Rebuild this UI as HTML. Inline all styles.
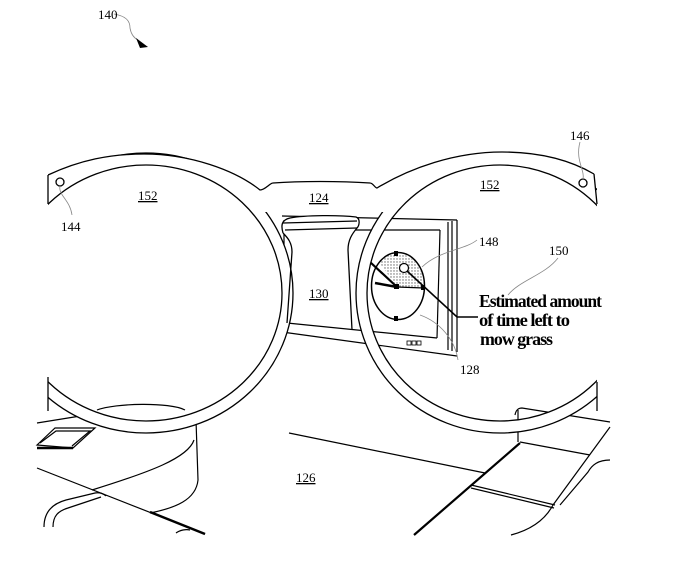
<!DOCTYPE html>
<html><head><meta charset="utf-8"><style>
html,body{margin:0;padding:0;background:#fff;}
svg{display:block;}
text{font-family:"Liberation Serif",serif;fill:#000;}
</style></head><body>
<svg width="682" height="564" viewBox="0 0 682 564" xmlns="http://www.w3.org/2000/svg">
<defs>
<pattern id="dots" width="3" height="3" patternUnits="userSpaceOnUse"><rect width="3" height="3" fill="#fff"/><circle cx="1" cy="1" r="0.7" fill="#666"/></pattern>
<clipPath id="fx"><rect x="48" y="0" width="549" height="564"/></clipPath>
<mask id="noLens" maskUnits="userSpaceOnUse" x="0" y="0" width="682" height="564">
<rect width="682" height="564" fill="#fff"/>
<ellipse cx="146" cy="293" rx="136" ry="128" fill="#000"/>
<ellipse cx="500" cy="293" rx="133" ry="128" fill="#000"/>
</mask>
</defs>
<g fill="none" stroke="#000" stroke-width="1.2">
<line x1="37" y1="423" x2="99" y2="413"/>
<path d="M97,410 C115,403 170,402 185,410"/>
<path d="M196,420 L198,480 C196,500 175,508 150,513"/>
<path d="M194,440 C188,458 150,472 92,490"/>
<path d="M37,445 L55,428 L95,428 L73,448 Z"/>
<path d="M40,443 L56,431 L90,431 L72,446"/>
<line x1="37" y1="448" x2="73" y2="448" stroke-width="2.5"/>
<line x1="37" y1="468" x2="205" y2="534"/>
<line x1="150" y1="512" x2="205" y2="534" stroke-width="2.5"/>
<path d="M44,527 C44,510 55,503 66,500 L95,493 C100,492 104,494 106,496"/>
<path d="M53,527 C53,516 58,511 68,508 L101,497"/>
<path d="M176,533 C180,530 186,529 190,530"/>
<line x1="289" y1="433" x2="485" y2="473"/>
<path d="M515,415 C516,410 518,408 522,408 L610,422"/>
<line x1="518" y1="410" x2="518" y2="442"/>
<line x1="520" y1="442" x2="590" y2="455"/>
<line x1="610" y1="427" x2="553" y2="505"/>
<path d="M553,505 C545,520 530,530 511,535"/>
<line x1="520" y1="443" x2="414" y2="535" stroke-width="2.2"/>
<line x1="471" y1="485" x2="555" y2="505"/>
<line x1="471" y1="488" x2="554" y2="508"/>
<path d="M610,460 C598,460 592,465 588,472 L560,505"/>
<line x1="282" y1="216" x2="457" y2="220"/>
<line x1="457" y1="220" x2="457" y2="352"/>
<line x1="448" y1="222" x2="448" y2="350"/>
<line x1="452" y1="221" x2="452" y2="351"/>
<line x1="284" y1="220" x2="284" y2="332"/>
<line x1="282" y1="332" x2="457" y2="356"/>
<line x1="287" y1="323" x2="437" y2="338"/>
<line x1="285" y1="230" x2="440" y2="230"/>
<line x1="440" y1="230" x2="437" y2="338"/>
<rect x="407" y="341" width="4" height="4" stroke-width="0.8"/>
<rect x="412" y="341" width="4" height="4" stroke-width="0.8"/>
<rect x="417" y="341" width="4" height="4" stroke-width="0.8"/>
</g>
<path d="M397,287 L424,288 A27,34 0 0 0 379,262 Z" fill="url(#dots)"/>
<ellipse cx="398" cy="286" rx="26.5" ry="33.5" fill="none" stroke="#000" stroke-width="1.5"/>
<line x1="397" y1="287" x2="424" y2="288" stroke="#000" stroke-width="1.2"/>
<line x1="370" y1="262" x2="397" y2="287" stroke="#000" stroke-width="2.2"/>
<line x1="375" y1="283" x2="397" y2="287" stroke="#000" stroke-width="2.5"/>
<rect x="394" y="284" width="5" height="5"/>
<rect x="394" y="251" width="4" height="5"/>
<rect x="394" y="316" width="4" height="5"/>
<rect x="421" y="285" width="4" height="5"/>
<circle cx="404" cy="268" r="4.5" fill="#fff" stroke="#000" stroke-width="1.2"/>
<polyline points="407,271 457,317 478,317" fill="none" stroke="#000" stroke-width="1.6"/>
<g clip-path="url(#fx)">
<g mask="url(#noLens)">
<ellipse cx="146" cy="293" rx="147" ry="140" fill="#fff" stroke="#000" stroke-width="1.3"/>
<ellipse cx="500" cy="293" rx="144" ry="140" fill="#fff" stroke="#000" stroke-width="1.3"/>
<path d="M48,175 C80,160 110,154 144,154 C190,154 235,170 260,190 L273,183 C300,181 340,181 370,183 L377,188 C410,168 455,152 502,152 C540,152 570,160 594,174 L597,212 L48,212 Z" fill="#fff"/>
</g>
<path d="M48,175 C80,160 110,154 144,154 C190,154 235,170 260,190 C265,190 270,183 273,183 C300,181 340,181 370,183 C373,183 375,188 377,188 C410,168 455,152 502,152 C540,152 570,160 594,174" fill="none" stroke="#000" stroke-width="1.3"/>
<ellipse cx="146" cy="293" rx="136" ry="128" fill="none" stroke="#000" stroke-width="1.3"/>
<ellipse cx="500" cy="293" rx="133" ry="128" fill="none" stroke="#000" stroke-width="1.3"/>
</g>
<g fill="none" stroke="#000" stroke-width="1.3">
<line x1="48" y1="175" x2="48" y2="204"/>
<line x1="594" y1="174" x2="597" y2="204"/>
<line x1="48" y1="377" x2="48" y2="411"/>
<line x1="597" y1="382" x2="597" y2="411"/>
<circle cx="60" cy="182" r="4"/>
<circle cx="583" cy="183" r="4"/>
<path d="M283,233 C281,226 281,220 290,218 C305,215 340,215 356,217 C361,219 359,226 357,228 C352,234 348,240 348,250 L352,330" fill="#fff"/>
<path d="M283,233 C288,238 292,243 292,252 L287,323"/>
<line x1="283" y1="223" x2="357" y2="221"/>
<line x1="285" y1="230" x2="357" y2="228"/>
</g>
<g fill="none" stroke="#888" stroke-width="0.8">
<path d="M60,186 C58,195 70,200 72,215"/>
<path d="M583,179 C585,170 575,160 580,142"/>
<path d="M422,267 C440,250 465,250 477,240"/>
<path d="M508,295 C520,280 545,275 558,258"/>
<path d="M420,315 C440,322 455,340 458,360"/>
<path d="M114,14 C125,16 130,20 130,28 C131,34 134,38 138,40"/>
</g>
<polygon points="136,38 148,47 140,48" fill="#000"/>
<g font-size="13">
<text x="98" y="19">140</text>
<text x="61" y="231">144</text>
<text x="570" y="140">146</text>
<text x="138" y="200" text-decoration="underline">152</text>
<text x="480" y="189" text-decoration="underline">152</text>
<text x="309" y="202" text-decoration="underline">124</text>
<text x="309" y="298" text-decoration="underline">130</text>
<text x="479" y="246">148</text>
<text x="549" y="255">150</text>
<text x="460" y="374">128</text>
<text x="296" y="482" text-decoration="underline">126</text>
</g>
<g font-size="18" font-weight="bold" letter-spacing="-1">
<text x="479" y="307" textLength="122" lengthAdjust="spacingAndGlyphs">Estimated amount</text>
<text x="479" y="326" textLength="90" lengthAdjust="spacingAndGlyphs">of time left to</text>
<text x="480" y="345" textLength="72" lengthAdjust="spacingAndGlyphs">mow grass</text>
</g>
</svg>
</body></html>
